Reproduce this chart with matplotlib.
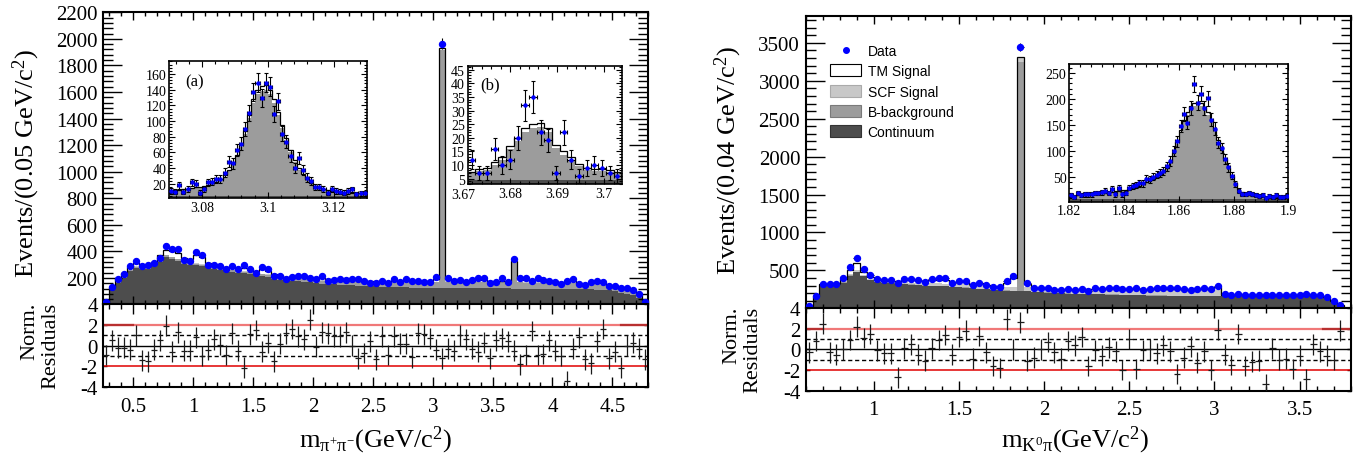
import numpy as np
import matplotlib
matplotlib.use("Agg")
import matplotlib.pyplot as plt
from matplotlib.ticker import MultipleLocator, FixedLocator, FuncFormatter
from matplotlib.lines import Line2D
from matplotlib.patches import Patch

plt.rcParams['font.family'] = 'Liberation Serif'
plt.rcParams['mathtext.fontset'] = 'custom'
plt.rcParams['mathtext.rm'] = 'Liberation Serif'
plt.rcParams['mathtext.it'] = 'Liberation Serif:italic'
plt.rcParams['axes.unicode_minus'] = False

###### m(pi+ pi-) spectrum, 0.05 GeV bins from 0.25 to 4.80 ######
pipi_data = [20, 135, 190, 230, 290, 325, 290, 295, 310, 350,
             440, 415, 415, 335, 330, 395, 375, 300, 295, 290,
             265, 290, 270, 295, 265, 240, 285, 270, 215, 215,
             195, 210, 215, 215, 200, 195, 215, 180, 185, 195,
             185, 190, 195, 175, 160, 165, 175, 160, 195, 170,
             195, 180, 178, 170, 170, 210, 1965, 203, 178, 186,
             166, 186, 196, 203, 161, 171, 203, 166, 341, 203,
             196, 178, 196, 185, 178, 171, 155, 178, 190, 158,
             148, 166, 178, 172, 140, 138, 122, 125, 108, 78, 20]
pipi_cont = [15, 110, 165, 200, 250, 275, 265, 270, 290, 320,
             360, 345, 330, 305, 300, 295, 290, 280, 270, 262,
             255, 248, 240, 235, 228, 222, 215, 210, 195, 188,
             182, 178, 174, 170, 166, 162, 158, 155, 152, 149,
             146, 144, 142, 140, 138, 136, 134, 132, 131, 130,
             129, 128, 127, 126, 125, 124, 124, 123, 123, 123,
             122, 122, 122, 122, 121, 121, 121, 121, 120, 120,
             120, 120, 120, 119, 119, 119, 118, 118, 118, 117,
             116, 115, 113, 110, 106, 100, 90, 80, 68, 50, 12]
pipi_bbkg = [3, 8, 10, 10, 10, 10, 10, 10, 10, 10,
             10, 10, 10, 10, 10, 11, 11, 11, 11, 12,
             12, 12, 13, 13, 14, 14, 15, 15, 17, 18,
             18, 19, 19, 20, 20, 21, 22, 23, 24, 25,
             26, 27, 28, 29, 30, 31, 32, 33, 34, 35,
             36, 37, 38, 39, 40, 45, 1790, 50, 46, 45,
             45, 45, 45, 45, 45, 45, 45, 46, 195, 48,
             45, 45, 45, 45, 45, 44, 44, 43, 43, 42,
             40, 38, 36, 34, 32, 30, 30, 28, 28, 25, 8]
pipi_scf = [1, 2, 3, 3, 3, 3, 3, 3, 3, 3,
            3, 3, 3, 3, 3, 3, 3, 3, 3, 3,
            3, 3, 3, 3, 3, 3, 3, 3, 3, 3,
            3, 3, 3, 3, 3, 3, 3, 3, 3, 3,
            3, 3, 3, 3, 3, 3, 3, 3, 3, 3,
            3, 3, 3, 3, 3, 3, 5, 3, 3, 3,
            3, 3, 3, 3, 3, 3, 3, 3, 3, 3,
            3, 3, 3, 3, 3, 3, 3, 3, 3, 3,
            2, 2, 2, 2, 2, 2, 2, 2, 2, 1, 1]
pipi_tm = [6, 15, 12, 22, 22, 27, 22, 17, 17, 37,
           37, 47, 47, 32, 27, 66, 56, 16, 16, 13,
           10, 17, 19, 24, 20, 16, 32, 27, 15, 11,
           7, 10, 14, 15, 13, 14, 17, 11, 11, 13,
           13, 14, 13, 8, 4, 5, 6, 4, 10, 8,
           12, 10, 8, 7, 10, 18, 16, 14, 10, 11,
           8, 10, 15, 18, 9, 3, 11, 10, 12, 21,
           20, 17, 17, 15, 13, 9, 3, 8, 11, 3,
           0, 7, 14, 16, 8, 8, 6, 15, 12, 4, 4]
pipi_resid = [-0.9, 0.5, -0.2, -0.2, -0.4, 1.0, -1.4, -1.5, -0.4, 0.5,
              1.9, -0.6, 1.3, -0.5, -0.5, 0.8, -1.0, -0.4, 0.6, 0.1,
              -0.9, 1.2, -0.5, -2.1, 1.1, 1.5, -0.6, 0.3, -1.5, 0.2,
              1.2, 1.6, 0.9, 0.6, 2.5, -0.1, 1.3, 1.2, 0.9, 0.9,
              1.3, 0.0, -1.2, -0.7, 0.4, -1.3, 0.9, -0.9, 0.9, 0.2,
              0.2, -1.1, 1.2, 1.1, 0.7, -0.4, -1.2, -0.3, -0.5, 1.0,
              0.6, -0.3, -0.6, 0.3, -1.2, 0.5, 0.7, 0.4, -0.5, -1.8,
              -0.9, 1.4, -0.9, -0.8, 0.5, -0.5, -1.0, -3.4, -0.3, 0.8,
              -1.3, -1.7, 0.4, 1.6, -1.2, -0.6, -2.1, 0.0, 0.3, -0.3, -1.3]

# inset (a): J/psi region, 0.00125 GeV bins from 3.07 to 3.13
jpsi_data = [11, 10, 18, 10, 14, 22, 20, 9, 13, 22,
             23, 26, 26, 34, 48, 46, 63, 71, 90, 110,
             137, 149, 129, 149, 144, 109, 125, 84, 74, 56,
             40, 53, 38, 28, 24, 16, 16, 14, 9, 14,
             11, 10, 9, 11, 13, 7, 8, 8]
jpsi_cont = [4, 4, 4, 4, 4, 4, 4, 4, 4, 4,
             4, 4, 4, 4, 4, 4, 4, 4, 4, 4,
             5, 5, 5, 5, 5, 5, 5, 5, 4, 4,
             4, 4, 4, 4, 4, 4, 4, 4, 4, 4,
             4, 4, 4, 4, 4, 4, 4, 4]
jpsi_bbkg = [7, 7, 7, 8, 9, 10, 11, 11, 12, 14,
             16, 18, 21, 25, 32, 40, 50, 63, 80, 100,
             118, 130, 134, 135, 130, 118, 103, 86, 71, 56,
             44, 34, 26, 21, 16, 12, 10, 8, 7, 6,
             6, 5, 5, 5, 4, 4, 4, 4]
jpsi_tm = [1, 1, 1, 1, 1, 1, 1, 1, 1, 1,
           1, 1, 1, 2, 2, 2, 3, 3, 4, 4,
           5, 5, 6, 6, 5, 5, 4, 4, 3, 3,
           2, 2, 2, 1, 1, 1, 1, 1, 1, 1,
           1, 1, 1, 1, 1, 1, 1, 1]

# inset (b): psi(2S) region, 20 bins from 3.671 to 3.7036
psi2s_data = [12, 7, 7, 16, 10, 12, 20, 32, 35, 22, 19, 7, 22, 12, 6, 9, 10, 9, 7, 6]
psi2s_cont = [4.5, 4.5, 4.5, 4.5, 4.5, 4.5, 4.5, 4.5, 4.5, 4.5,
              4.5, 4.5, 4.5, 4.5, 4.5, 4.5, 4.5, 4.5, 4.5, 4.5]
psi2s_bbkg = [2.5, 3.2, 3.7, 5.5, 7.5, 11.3, 14.3, 17.5, 19, 19.5,
              17.5, 11.8, 9.3, 7.5, 5, 3.7, 3.2, 3.2, 3, 2.5]
psi2s_tm = [0.5, 0.8, 0.8, 1, 1, 1.2, 1.2, 1.5, 1.5, 1.5,
            1.5, 1.2, 1.2, 1, 1, 0.8, 0.8, 0.8, 0.5, 0.5]

###### m(K0 pi) spectrum, 0.04 GeV bins from 0.6 to 3.8 ######
nan = float('nan')
kpi_data = [35, 160, 325, 325, 325, 395, 544, 660, 513, 439,
            382, 369, 369, 338, 382, 382, 369, 351, 382, 395,
            395, 338, 360, 360, 308, 338, 308, 281, 281, 360,
            426, 3445, 338, 265, 262, 262, 245, 245, 255, 245,
            255, 225, 262, 258, 262, 262, 255, 250, 268, 240,
            258, 262, 262, 268, 262, 255, 242, 258, 262, 255,
            295, 185, 175, 190, 178, 180, 178, 172, 180, 178,
            172, 180, 178, 185, 180, 172, 150, 98, 50, nan]
kpi_cont = [25, 130, 290, 295, 300, 340, 430, 480, 420, 370,
            345, 335, 330, 322, 318, 312, 306, 300, 296, 292,
            288, 283, 278, 274, 262, 255, 248, 240, 235, 232,
            230, 228, 222, 215, 210, 205, 200, 197, 194, 191,
            188, 186, 184, 182, 180, 178, 176, 174, 172, 170,
            168, 166, 165, 164, 163, 162, 161, 160, 159, 158,
            157, 170, 165, 170, 168, 168, 166, 164, 166, 166,
            164, 166, 166, 170, 166, 160, 140, 90, 45, 0]
kpi_bbkg = [1, 4, 4, 4, 4, 4, 4, 4, 4, 4,
            4, 4, 4, 4, 4, 4, 4, 4, 4, 4,
            4, 4, 4, 4, 4, 4, 4, 4, 4, 4,
            4, 3026, 4, 4, 4, 4, 4, 4, 4, 4,
            4, 4, 4, 4, 4, 4, 4, 4, 4, 4,
            4, 4, 4, 4, 4, 4, 4, 4, 4, 4,
            4, 2, 2, 2, 2, 2, 2, 2, 2, 2,
            2, 2, 2, 2, 2, 2, 2, 2, 1, 0]
kpi_scf = [2, 8, 12, 12, 12, 14, 20, 25, 20, 18,
           18, 18, 20, 20, 22, 24, 26, 28, 30, 32,
           34, 36, 38, 40, 40, 40, 40, 40, 42, 44,
           46, 48, 50, 45, 48, 50, 52, 54, 56, 58,
           59, 60, 61, 62, 63, 64, 65, 66, 67, 68,
           69, 70, 71, 72, 73, 74, 75, 76, 77, 78,
           80, 2, 2, 2, 2, 2, 2, 2, 2, 2,
           2, 2, 2, 2, 2, 2, 2, 2, 1, 0]
kpi_tm = [2, 18, 14, 14, 14, 22, 56, 91, 36, 18,
          13, 8, 8, 9, 24, 28, 26, 23, 40, 47,
          46, 27, 32, 32, 14, 31, 20, 8, 7, 60,
          115, 10, 50, 4, 3, 3, 2, 2, 3, 2,
          4, 2, 13, 10, 15, 16, 10, 6, 15, 3,
          12, 15, 15, 18, 15, 12, 5, 12, 15, 12,
          35, 6, 6, 8, 6, 6, 6, 5, 6, 6,
          5, 6, 6, 6, 6, 6, 6, 4, 2, 0]
kpi_resid = [-0.3, 0.8, 2.5, -0.3, -0.5, 0.0, 0.9, 2.2, 1.1, 1.5,
             -0.1, -0.4, -0.4, -2.7, 0.1, 0.5, -0.5, -1.1, 0.1, 0.9,
             1.4, -0.5, 1.2, 1.8, -0.9, 1.3, -0.3, -1.6, -1.8, 2.9,
             0.0, 2.6, -1.1, -0.8, 0.0, 0.7, -0.3, -0.9, 0.8, 0.4,
             1.2, -1.6, -0.1, -0.6, 0.2, -0.2, -2.0, 1.0, -1.9, -0.1,
             0.0, -0.4, 0.4, -0.2, -2.4, -0.8, 0.3, -1.3, -0.2, -2.0,
             1.9, -0.5, -1.5, 1.5, -1.6, -1.2, -1.1, -3.4, 0.1, -1.0,
             -0.9, -1.9, -0.6, -2.9, 0.5, -0.2, -0.6, -1.0, 1.8, nan]

# inset: D0 region, 0.00125 GeV bins from 1.82 to 1.90
d0_data = [15, 12, 20, 16, 17, 17, 17, 20, 20, 21,
           24, 20, 27, 17, 30, 17, 20, 30, 33, 35,
           38, 38, 47, 46, 51, 55, 58, 62, 71, 81,
           100, 119, 148, 171, 154, 182, 229, 193, 210, 182,
           201, 160, 143, 116, 106, 85, 69, 53, 37, 24,
           18, 18, 20, 18, 16, 14, 16, 11, 14, 12,
           15, 12, 12, 14]
d0_cont = [9, 9, 9, 9, 9, 9, 9, 9, 9, 9,
           9, 9, 9, 9, 9, 9, 9, 9, 9, 9,
           9, 9, 9, 9, 9, 9, 9, 9, 9, 9,
           9, 9, 9, 9, 9, 9, 9, 9, 9, 9,
           9, 9, 9, 9, 9, 9, 9, 9, 9, 9,
           9, 9, 9, 9, 9, 9, 9, 9, 9, 9,
           9, 9, 9, 9]
d0_bbkg = [4, 4, 5, 5, 6, 6, 7, 7, 8, 9,
           10, 11, 12, 13, 14, 15, 16, 18, 20, 22,
           23, 26, 29, 32, 36, 40, 44, 49, 56, 68,
           85, 105, 127, 146, 161, 171, 177, 179, 177, 171,
           161, 146, 129, 109, 91, 73, 56, 41, 27, 17,
           11, 7, 5, 4, 3, 3, 2, 2, 2, 1,
           1, 1, 1, 1]
d0_tm = [1, 1, 1, 1, 1, 1, 1, 1, 1, 1,
         1, 1, 1, 1, 1, 1, 1, 1, 1, 1,
         2, 2, 2, 2, 2, 2, 2, 2, 3, 3,
         3, 4, 4, 5, 5, 6, 6, 6, 6, 5,
         5, 5, 4, 4, 3, 3, 3, 2, 2, 2,
         1, 1, 1, 1, 1, 1, 1, 1, 1, 1,
         1, 1, 1, 1]

C_CONT = '#4d4d4d'
C_BBKG = '#9c9c9c'
C_SCF = '#c8c8c8'
C_TM = 'white'
BLUE = '#0000ff'

W, H = 1371, 460
fig = plt.figure(figsize=(W / 100, H / 100), dpi=100)


def box(x0, y0, x1, y1):
    # pixel box (top-left origin) -> figure fraction rect
    return [x0 / W, 1 - y1 / H, (x1 - x0) / W, (y1 - y0) / H]


def draw_stack(ax, edges, layers):
    base = np.zeros(len(edges) - 1)
    for vals, col in layers:
        top = base + np.asarray(vals, float)
        ax.stairs(top, edges, baseline=base, fill=True, color=col, lw=0.4)
        base = top
    ax.stairs(base, edges, baseline=None, color='black', lw=0.9)


def draw_data(ax, edges, vals, ms, cap):
    centers = 0.5 * (edges[:-1] + edges[1:])
    v = np.asarray(vals, float)
    ax.errorbar(centers, v, xerr=0.5 * np.diff(edges), yerr=np.sqrt(v), fmt='o',
                ms=ms, mfc=BLUE, mec=BLUE, ecolor='black', elinewidth=0.8,
                capsize=cap, capthick=0.8, zorder=5)


def draw_resid(ax, edges, vals, xlo, xhi):
    centers = 0.5 * (edges[:-1] + edges[1:])
    ax.axhline(0, color='black', lw=1.0)
    ax.axhline(1, color='black', lw=1.0, ls=(0, (3, 2)))
    ax.axhline(-1, color='black', lw=1.0, ls=(0, (3, 2)))
    ax.axhline(2, color='#f07878', lw=1.6)
    ax.axhline(2, xmax=xlo, color='#b83030', lw=1.6)
    ax.axhline(2, xmin=xhi, color='#b83030', lw=1.6)
    ax.axhline(-2, color='#e00000', lw=1.1)
    ax.errorbar(centers, np.asarray(vals, float), xerr=0.5 * np.diff(edges), yerr=1.0,
                fmt='none', ecolor='#1a1a1a', elinewidth=0.9, zorder=4)
    ax.set_xlim(edges[0], edges[-1])
    ax.set_ylim(-4, 4)
    ax.set_yticks([-4, -2, 0, 2, 4])
    ax.xaxis.set_major_locator(MultipleLocator(0.5))
    ax.xaxis.set_minor_locator(MultipleLocator(0.1))
    ax.xaxis.set_major_formatter(FuncFormatter(lambda v, p: '%g' % v))
    ax.tick_params(which='both', direction='in', top=True, right=True, labelsize=15, width=1)
    ax.tick_params(axis='x', which='major', length=7, pad=7)
    ax.tick_params(axis='x', which='minor', length=3.5)
    ax.tick_params(axis='y', which='major', length=3, pad=4)
    for s in ax.spines.values():
        s.set_linewidth(1.5)


def style_main(ax, ymaj, ymin):
    ax.yaxis.set_major_locator(MultipleLocator(ymaj))
    ax.yaxis.set_minor_locator(MultipleLocator(ymin))
    ax.xaxis.set_major_locator(MultipleLocator(0.5))
    ax.xaxis.set_minor_locator(MultipleLocator(0.1))
    ax.tick_params(which='both', direction='in', top=True, right=True,
                   labelbottom=False, labelsize=15, width=1)
    ax.tick_params(axis='y', which='major', length=14, pad=4)
    ax.tick_params(axis='y', which='minor', length=7)
    ax.tick_params(axis='x', which='major', length=6)
    ax.tick_params(axis='x', which='minor', length=3)
    for s in ax.spines.values():
        s.set_linewidth(1.5)


def style_inset(ax, xticks, xmin, ymaj, ymin):
    ax.xaxis.set_major_locator(FixedLocator(xticks))
    ax.xaxis.set_minor_locator(MultipleLocator(xmin))
    ax.yaxis.set_major_locator(MultipleLocator(ymaj))
    ax.yaxis.set_minor_locator(MultipleLocator(ymin))
    ax.xaxis.set_major_formatter(FuncFormatter(lambda v, p: '%g' % round(v, 4)))
    ax.tick_params(which='both', direction='in', top=True, right=True, labelsize=10, width=0.8, pad=2)
    ax.tick_params(which='major', length=4)
    ax.tick_params(which='minor', length=2)
    for s in ax.spines.values():
        s.set_linewidth(1.2)


# ---------------- left: m(pi+ pi-) ----------------
axL = fig.add_axes(box(103.3, 13.3, 648.3, 305))
axLr = fig.add_axes(box(103.3, 305, 648.3, 388.3))
edgesL = np.linspace(0.25, 4.80, len(pipi_data) + 1)
draw_stack(axL, edgesL, [(pipi_cont, C_CONT), (pipi_bbkg, C_BBKG), (pipi_scf, C_SCF), (pipi_tm, C_TM)])
draw_data(axL, edgesL, pipi_data, 4.3, 0)
axL.set_xlim(0.25, 4.80)
axL.set_ylim(4, 2200)
style_main(axL, 200, 40)
draw_resid(axLr, edgesL, pipi_resid, 0.055, 0.95)

insA = fig.add_axes(box(169, 61.7, 366.7, 199))
edgesA = np.linspace(3.07, 3.13, len(jpsi_data) + 1)
draw_stack(insA, edgesA, [(jpsi_cont, C_CONT), (jpsi_bbkg, C_BBKG), (jpsi_tm, C_TM)])
draw_data(insA, edgesA, jpsi_data, 2.2, 1.5)
insA.set_xlim(3.07, 3.13)
insA.set_ylim(2, 177)
style_inset(insA, [3.08, 3.10, 3.12], 0.004, 20, 4)
insA.text(0.08, 0.85, '(a)', transform=insA.transAxes, fontsize=12, va='center')

insB = fig.add_axes(box(467.7, 66.7, 621.7, 185))
edgesB = np.linspace(3.671, 3.7036, len(psi2s_data) + 1)
draw_stack(insB, edgesB, [(psi2s_cont, C_CONT), (psi2s_bbkg, C_BBKG), (psi2s_tm, C_TM)])
draw_data(insB, edgesB, psi2s_data, 2.2, 1.5)
insB.set_xlim(3.671, 3.7037)
insB.set_ylim(3, 46.5)
style_inset(insB, [3.68, 3.69, 3.70], 0.002, 5, 1)
insB.text(3.67, -0.03, '3.67', transform=insB.get_xaxis_transform(), fontsize=10,
          ha='center', va='top', clip_on=False)
insB.text(0.08, 0.845, '(b)', transform=insB.transAxes, fontsize=12, va='center')

fig.text(26 / W, 1 - 163 / H, r'Events/(0.05 GeV/c$^{\mathrm{2}}$)', rotation=90,
         ha='center', va='center', fontsize=19)
fig.text(30 / W, 1 - 303 / H, 'Norm.', rotation=90, ha='center', va='top', fontsize=16)
fig.text(51 / W, 1 - 303 / H, 'Residuals', rotation=90, ha='center', va='top', fontsize=16)
fig.text(375 / W, 1 - 440 / H, r'm$_{\mathrm{\pi^{+}\pi^{-}}}$(GeV/c$^{\mathrm{2}}$)',
         ha='center', va='center', fontsize=19)

# ---------------- right: m(K0 pi) ----------------
axR = fig.add_axes(box(805.7, 17.3, 1350.7, 309))
axRr = fig.add_axes(box(805.7, 309, 1350.7, 391.7))
edgesR = np.linspace(0.6, 3.8, len(kpi_data) + 1)
draw_stack(axR, edgesR, [(kpi_cont, C_CONT), (kpi_bbkg, C_BBKG), (kpi_scf, C_SCF), (kpi_tm, C_TM)])
draw_data(axR, edgesR, kpi_data, 4.3, 0)
axR.set_xlim(0.6, 3.8)
axR.set_ylim(4, 3850)
style_main(axR, 500, 100)
draw_resid(axRr, edgesR, kpi_resid, 0.031, 0.95)

handles = [Line2D([], [], ls='none', marker='o', ms=4, color=BLUE),
           Patch(fc=C_TM, ec='black', lw=0.8),
           Patch(fc=C_SCF, ec='#aaaaaa', lw=0.8),
           Patch(fc=C_BBKG, ec='#7a7a7a', lw=0.8),
           Patch(fc=C_CONT, ec='#333333', lw=0.8)]
labels = ['Data', 'TM Signal', 'SCF Signal', 'B-background', 'Continuum']
axR.legend(handles, labels, loc='upper left', bbox_to_anchor=(0.045, 0.905), frameon=False,
           prop={'family': 'Liberation Sans', 'size': 10}, handlelength=2.2, handleheight=0.95,
           labelspacing=0.45, handletextpad=0.5, borderpad=0, borderaxespad=0)

insC = fig.add_axes(box(1069.3, 65, 1288.3, 202.7))
edgesC = np.linspace(1.82, 1.90, len(d0_data) + 1)
draw_stack(insC, edgesC, [(d0_cont, C_CONT), (d0_bbkg, C_BBKG), (d0_tm, C_TM)])
draw_data(insC, edgesC, d0_data, 2.2, 1.5)
insC.set_xlim(1.82, 1.90)
insC.set_ylim(3, 267)
style_inset(insC, [1.82, 1.84, 1.86, 1.88, 1.90], 0.004, 50, 10)

fig.text(728 / W, 1 - 160 / H, r'Events/(0.04 GeV/c$^{\mathrm{2}}$)', rotation=90,
         ha='center', va='center', fontsize=19)
fig.text(732 / W, 1 - 307 / H, 'Norm.', rotation=90, ha='center', va='top', fontsize=16)
fig.text(753 / W, 1 - 307 / H, 'Residuals', rotation=90, ha='center', va='top', fontsize=16)
fig.text(1075 / W, 1 - 440 / H, r'm$_{\mathrm{K^{0}\pi}}$(GeV/c$^{\mathrm{2}}$)',
         ha='center', va='center', fontsize=19)

fig.savefig('out.png', dpi=100)
